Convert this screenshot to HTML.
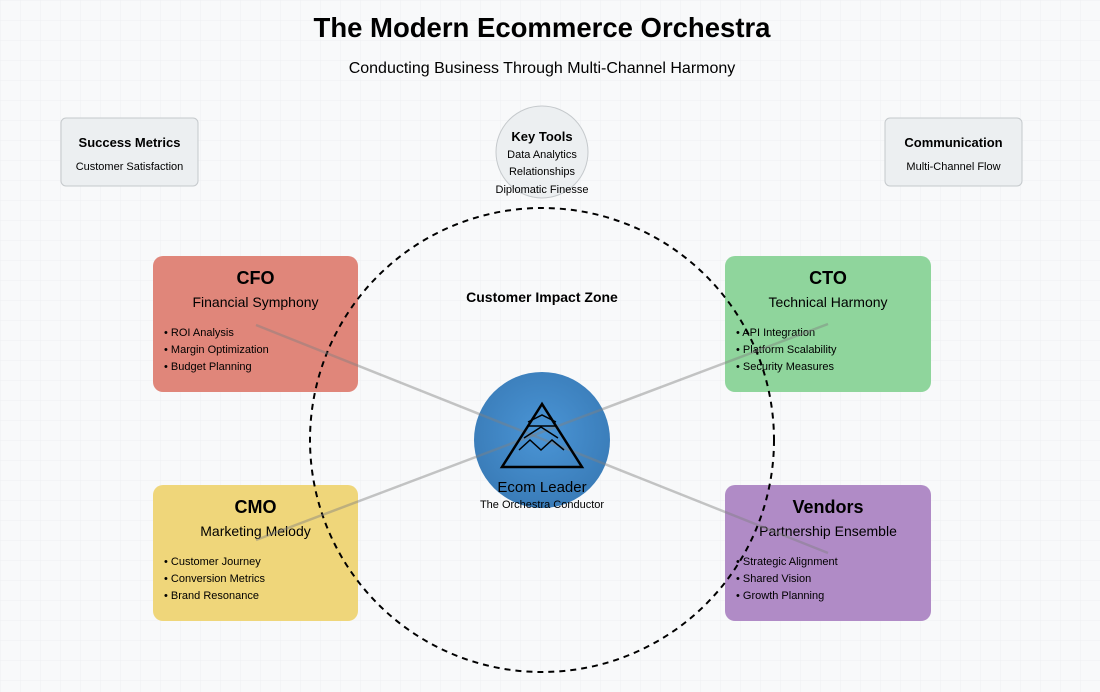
<!DOCTYPE html>
<html><head><meta charset="utf-8"><style>
html,body{margin:0;padding:0;background:#f8f9fa;}
svg{display:block;font-family:"Liberation Sans",Arial,sans-serif;}
</style></head><body>
<svg width="1100" height="692" viewBox="0 0 1100 692" xmlns="http://www.w3.org/2000/svg">
<defs>
<pattern id="g" width="20" height="20" patternUnits="userSpaceOnUse"><path d="M20 0H0V20" fill="none" stroke="#eef0f2" stroke-width="1"/></pattern>
<radialGradient id="rg" cx="50%" cy="45%" r="55%"><stop offset="0" stop-color="#4a95d6"/><stop offset="1" stop-color="#3a7cb8"/></radialGradient>
</defs>
<rect width="1100" height="692" fill="#f8f9fa"/>
<rect width="1100" height="692" fill="url(#g)"/>
<text x="542" y="37" text-anchor="middle" font-size="27.5" font-weight="bold" fill="#000">The Modern Ecommerce Orchestra</text>
<text x="542" y="73" text-anchor="middle" font-size="16" fill="#000">Conducting Business Through Multi-Channel Harmony</text>

<rect x="61" y="118" width="137" height="68" rx="5" fill="#eceff1" stroke="#c5c9cc"/>
<text x="129.5" y="147" text-anchor="middle" font-size="13" font-weight="bold">Success Metrics</text>
<text x="129.5" y="170" text-anchor="middle" font-size="11">Customer Satisfaction</text>
<rect x="885" y="118" width="137" height="68" rx="5" fill="#eceff1" stroke="#c5c9cc"/>
<text x="953.5" y="147" text-anchor="middle" font-size="13" font-weight="bold">Communication</text>
<text x="953.5" y="170" text-anchor="middle" font-size="11">Multi-Channel Flow</text>

<circle cx="542" cy="152" r="46" fill="#eceff1" stroke="#c5c9cc"/>
<text x="542" y="141" text-anchor="middle" font-size="13" font-weight="bold">Key Tools</text>
<text x="542" y="158" text-anchor="middle" font-size="11">Data Analytics</text>
<text x="542" y="175" text-anchor="middle" font-size="11">Relationships</text>
<text x="542" y="193" text-anchor="middle" font-size="11">Diplomatic Finesse</text>

<rect x="153" y="256" width="205" height="136" rx="10" fill="#e0867a"/>
<text x="255.5" y="284" text-anchor="middle" font-size="18" font-weight="bold">CFO</text>
<text x="255.5" y="307" text-anchor="middle" font-size="14">Financial Symphony</text>
<text x="164" y="336" font-size="11">• ROI Analysis</text>
<text x="164" y="353" font-size="11">• Margin Optimization</text>
<text x="164" y="370" font-size="11">• Budget Planning</text>

<rect x="725" y="256" width="206" height="136" rx="10" fill="#8fd59c"/>
<text x="828" y="284" text-anchor="middle" font-size="18" font-weight="bold">CTO</text>
<text x="828" y="307" text-anchor="middle" font-size="14">Technical Harmony</text>
<text x="736" y="336" font-size="11">• API Integration</text>
<text x="736" y="353" font-size="11">• Platform Scalability</text>
<text x="736" y="370" font-size="11">• Security Measures</text>

<rect x="153" y="485" width="205" height="136" rx="10" fill="#efd67a"/>
<text x="255.5" y="513" text-anchor="middle" font-size="18" font-weight="bold">CMO</text>
<text x="255.5" y="536" text-anchor="middle" font-size="14">Marketing Melody</text>
<text x="164" y="565" font-size="11">• Customer Journey</text>
<text x="164" y="582" font-size="11">• Conversion Metrics</text>
<text x="164" y="599" font-size="11">• Brand Resonance</text>

<rect x="725" y="485" width="206" height="136" rx="10" fill="#b08bc6"/>
<text x="828" y="513" text-anchor="middle" font-size="18" font-weight="bold">Vendors</text>
<text x="828" y="536" text-anchor="middle" font-size="14">Partnership Ensemble</text>
<text x="736" y="565" font-size="11">• Strategic Alignment</text>
<text x="736" y="582" font-size="11">• Shared Vision</text>
<text x="736" y="599" font-size="11">• Growth Planning</text>

<circle cx="542" cy="440" r="232" fill="none" stroke="#000" stroke-width="2" stroke-dasharray="6,5"/>
<text x="542" y="302" text-anchor="middle" font-size="14" font-weight="bold">Customer Impact Zone</text>

<circle cx="542" cy="440" r="68" fill="url(#rg)"/>
<g stroke="#808080" stroke-opacity="0.45" stroke-width="2.5">
<line x1="256" y1="325" x2="828" y2="553"/>
<line x1="256" y1="540" x2="828" y2="324"/>
</g>
<g fill="none" stroke="#000" stroke-width="2.5">
<polygon points="542,404 502,467 582,467"/>
</g>
<g fill="none" stroke="#000" stroke-width="1.5">
<path d="M528 422 L542 415 L556 422"/>
<path d="M527 426 L557 426"/>
<path d="M524 438 L541 427 L558 438"/>
<path d="M519 450 L530 440 L541 450 L552 440 L564 450"/>
</g>
<text x="542" y="492" text-anchor="middle" font-size="15">Ecom Leader</text>
<text x="542" y="508" text-anchor="middle" font-size="11">The Orchestra Conductor</text>
</svg>
</body></html>
